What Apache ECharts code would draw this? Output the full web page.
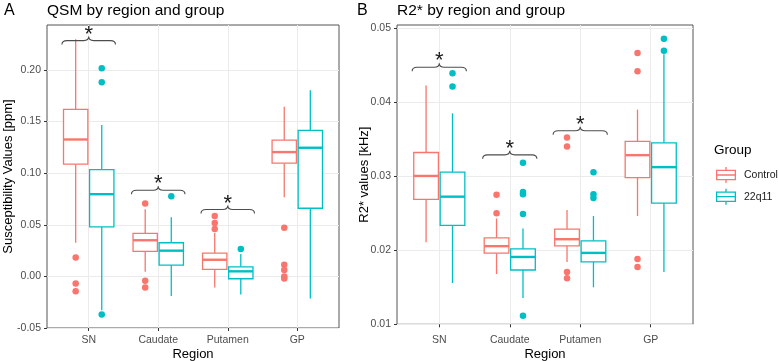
<!DOCTYPE html>
<html>
<head>
<meta charset="utf-8">
<script src="https://cdn.jsdelivr.net/npm/echarts@6/dist/echarts.min.js"></script>
<style>
  html, body { margin: 0; padding: 0; background: #fff; }
  #main { width: 779px; height: 361px; }
</style>
</head>
<body>
<div id="main"></div>
<script>
// regions on the x axis
var regions = ['SN', 'Caudate', 'Putamen', 'GP'];

// QSM boxes, one row per region: [min, Q1, median, Q3, max]
var qsmControl = [
    [0.0326, 0.1087, 0.1326, 0.1617, 0.2298],
    [0.0045, 0.0243, 0.0350, 0.0417, 0.0650],
    [-0.0107, 0.0068, 0.0161, 0.0226, 0.0420],
    [0.0767, 0.1097, 0.1204, 0.1320, 0.1644]
];
var qsm22q11 = [
    [-0.0327, 0.0479, 0.0796, 0.1035, 0.1466],
    [-0.0191, 0.0110, 0.0249, 0.0326, 0.0573],
    [-0.0175, -0.0023, 0.0049, 0.0093, 0.0217],
    [-0.0214, 0.0660, 0.1246, 0.1414, 0.1802]
];
var qsmControlOut = [[0.0184, -0.0068, -0.0143], [0.0705, -0.0043, -0.0107], [0.0585, 0.0517, 0.0459], [0.0472, 0.0113, 0.0061, 0.0000, -0.0020]];
var qsm22q11Out = [[0.2016, 0.1880, -0.0369], [0.0777], [0.0265], []];
// significance brackets: [region index (1-based), height]
var qsmBrackets = [[1, 0.2284], [2, 0.0835], [3, 0.0648]];
var qsmTicks = [-0.05, 0, 0.05, 0.10, 0.15, 0.20];

// R2* boxes
var r2Control = [
    [0.0211, 0.02689, 0.03005, 0.03322, 0.04227],
    [0.0168, 0.01961, 0.02056, 0.02168, 0.0243],
    [0.01843, 0.0206, 0.0215, 0.02286, 0.02544],
    [0.02463, 0.02981, 0.03286, 0.03471, 0.03901]
];
var r222q11 = [
    [0.01558, 0.02336, 0.02725, 0.03056, 0.03851],
    [0.01354, 0.01734, 0.0191, 0.02019, 0.02296],
    [0.0150, 0.01843, 0.01965, 0.02128, 0.02463],
    [0.01707, 0.02639, 0.03124, 0.03453, 0.0465]
];
var r2ControlOut = [[], [0.02752, 0.0250], [0.03525, 0.03403, 0.01707, 0.01621], [0.04665, 0.04421, 0.01883, 0.01775]];
var r222q11Out = [[0.04394, 0.04213], [0.03182, 0.02788, 0.02757, 0.0249, 0.01115], [0.03055, 0.02757, 0.02707], [0.0486, 0.04697]];
var r2Brackets = [[1, 0.04475], [2, 0.0329], [3, 0.03616]];
var r2Ticks = [0.01, 0.02, 0.03, 0.04, 0.05];

var COL_CTRL = '#F8766D';
var COL_22Q = '#00BFC4';
var DODGE = 0.1875;   // ggplot position_dodge offset
var BOX_W = 0.35;
var BRACE_W = 0.385;
var FONT = '"Liberation Sans", Arial, sans-serif';

var boxIcon = 'path://M0 5.5H40V8.1H0Z M0 23.9H40V26.5H0Z M0 5.5H2.6V26.5H0Z M37.4 5.5H40V26.5H37.4Z M0 14.7H40V17.3H0Z M18.7 0H21.3V5.5H18.7Z M18.7 26.5H21.3V32H18.7Z';

function renderBox(params, api) {
    var x = api.value(0);
    var pMin = api.coord([x, api.value(1)]);
    var pQ1 = api.coord([x, api.value(2)]);
    var pMed = api.coord([x, api.value(3)]);
    var pQ3 = api.coord([x, api.value(4)]);
    var pMax = api.coord([x, api.value(5)]);
    var half = api.size([BOX_W, 0])[0] / 2;
    var color = api.visual('color');
    return {
        type: 'group',
        children: [
            {type: 'line', shape: {x1: pMax[0], y1: pMax[1], x2: pQ3[0], y2: pQ3[1]}, style: {stroke: color, lineWidth: 1.3}},
            {type: 'line', shape: {x1: pQ1[0], y1: pQ1[1], x2: pMin[0], y2: pMin[1]}, style: {stroke: color, lineWidth: 1.3}},
            {type: 'rect', shape: {x: pQ3[0] - half, y: pQ3[1], width: half * 2, height: pQ1[1] - pQ3[1]},
                style: {fill: '#fff', stroke: color, lineWidth: 1.3}},
            {type: 'line', shape: {x1: pMed[0] - half, y1: pMed[1], x2: pMed[0] + half, y2: pMed[1]}, style: {stroke: color, lineWidth: 2.4}}
        ]
    };
}

function renderBracket(params, api) {
    var xc = api.value(0), y = api.value(1);
    var L = api.coord([xc - BRACE_W, y]);
    var R = api.coord([xc + BRACE_W, y]);
    var C = api.coord([xc, y]);
    var y0 = C[1];
    var d = 'M' + L[0] + ' ' + (y0 + 4) + ' Q' + L[0] + ' ' + y0 + ' ' + (L[0] + 5) + ' ' + y0 +
        ' L' + (C[0] - 5) + ' ' + y0 + ' Q' + C[0] + ' ' + y0 + ' ' + C[0] + ' ' + (y0 - 4) +
        ' Q' + C[0] + ' ' + y0 + ' ' + (C[0] + 5) + ' ' + y0 +
        ' L' + (R[0] - 5) + ' ' + y0 + ' Q' + R[0] + ' ' + y0 + ' ' + R[0] + ' ' + (y0 + 4);
    return {
        type: 'group',
        children: [
            {type: 'path', shape: {pathData: d}, style: {fill: 'none', stroke: '#4d4d4d', lineWidth: 1.1}},
            {type: 'text', style: {text: '*', x: C[0], y: y0 - 6, textAlign: 'center', textVerticalAlign: 'middle',
                fontSize: 22, fill: '#1a1a1a', fontFamily: FONT}}
        ]
    };
}

function boxSeries(name, stats, dodge, color, gi) {
    var data = stats.map(function (s, i) {
        return [i + 1 + dodge].concat(s);
    });
    return {
        name: name, type: 'custom', xAxisIndex: gi, yAxisIndex: gi,
        itemStyle: {color: color}, renderItem: renderBox, clip: false, z: 3,
        encode: {x: 0, y: [1, 2, 3, 4, 5]}, data: data
    };
}

function outSeries(name, outs, dodge, color, gi) {
    var data = [];
    outs.forEach(function (list, i) {
        list.forEach(function (v) { data.push([i + 1 + dodge, v]); });
    });
    return {
        name: name, type: 'scatter', xAxisIndex: gi, yAxisIndex: gi,
        symbolSize: 6.5, itemStyle: {color: color, opacity: 1}, z: 4, data: data
    };
}

function bracketSeries(list, gi) {
    return {
        type: 'custom', xAxisIndex: gi, yAxisIndex: gi, renderItem: renderBracket, clip: false, z: 5,
        encode: {x: 0, y: 1}, data: list, silent: true
    };
}

function xAxisFor(gi, labelMargin, nameGap) {
    return {
        type: 'value', gridIndex: gi, min: 0.4, max: 4.6, position: 'bottom',
        name: 'Region', nameLocation: 'middle', nameGap: nameGap, nameMoveOverlap: false,
        nameTextStyle: {fontSize: 13, color: '#000', fontFamily: FONT},
        axisLine: {show: false, onZero: false},
        axisTick: {show: true, length: 3, customValues: [1, 2, 3, 4], lineStyle: {color: '#333'}},
        axisLabel: {customValues: [1, 2, 3, 4], margin: labelMargin, fontSize: 10.5, color: '#4D4D4D', fontFamily: FONT,
            formatter: function (v) { return regions[Math.round(v) - 1]; }},
        splitLine: {show: true, lineStyle: {color: '#EBEBEB', width: 1}}
    };
}

function yAxisFor(gi, min, max, interval, ticks, name, gap) {
    return {
        type: 'value', gridIndex: gi, min: min, max: max, interval: interval, position: 'left',
        name: name, nameLocation: 'middle', nameGap: gap, nameMoveOverlap: false,
        nameTextStyle: {fontSize: 13, color: '#000', fontFamily: FONT},
        axisLine: {show: false, onZero: false},
        axisTick: {show: true, length: 3, customValues: ticks, lineStyle: {color: '#333'}},
        axisLabel: {customValues: ticks, margin: 6, fontSize: 10.5, color: '#4D4D4D', fontFamily: FONT,
            formatter: function (v) { return v.toFixed(2); }},
        splitLine: {show: true, lineStyle: {color: '#EBEBEB', width: 1}}
    };
}

var chart = echarts.init(document.getElementById('main'));

var option = {
    animation: false,
    backgroundColor: '#fff',
    textStyle: {fontFamily: FONT},
    title: [
        {text: 'A', left: 4, top: 3, padding: 0, textStyle: {fontSize: 16, fontWeight: 'normal', color: '#000', fontFamily: FONT}},
        {text: 'QSM by region and group', left: 47, top: 3, padding: 0, textStyle: {fontSize: 15.5, fontWeight: 'normal', color: '#000', fontFamily: FONT}},
        {text: 'B', left: 357, top: 3, padding: 0, textStyle: {fontSize: 16, fontWeight: 'normal', color: '#000', fontFamily: FONT}},
        {text: 'R2* by region and group', left: 397, top: 3, padding: 0, textStyle: {fontSize: 15.5, fontWeight: 'normal', color: '#000', fontFamily: FONT}},
        {text: 'Group', left: 714, top: 143, padding: 0, textStyle: {fontSize: 13.5, fontWeight: 'normal', color: '#000', fontFamily: FONT}}
    ],
    legend: {
        orient: 'vertical', left: 716, top: 167, padding: 0,
        itemWidth: 20, itemHeight: 16, itemGap: 5.7,
        itemStyle: {borderWidth: 0},
        textStyle: {fontSize: 10.5, color: '#1a1a1a', fontFamily: FONT, padding: [0, 0, 0, 3]},
        data: [{name: 'Control', icon: boxIcon}, {name: '22q11', icon: boxIcon}]
    },
    grid: [
        {left: 47, right: 440, top: 25, bottom: 33, show: true, borderColor: '#555', borderWidth: 1,
            backgroundColor: 'transparent', outerBoundsMode: 'none'},
        {left: 397, right: 86, top: 25, bottom: 36.7, show: true, borderColor: '#555', borderWidth: 1,
            backgroundColor: 'transparent', outerBoundsMode: 'none'}
    ],
    xAxis: [xAxisFor(0, 7, 19.5), xAxisFor(1, 10.5, 23.2)],
    yAxis: [
        yAxisFor(0, -0.05, 0.2435, 0.05, qsmTicks, 'Susceptibility Values [ppm]', 32),
        yAxisFor(1, 0.01, 0.05045, 0.01, r2Ticks, 'R2* values [kHz]', 26)
    ],
    series: [
        boxSeries('Control', qsmControl, -DODGE, COL_CTRL, 0),
        boxSeries('22q11', qsm22q11, DODGE, COL_22Q, 0),
        outSeries('Control', qsmControlOut, -DODGE, COL_CTRL, 0),
        outSeries('22q11', qsm22q11Out, DODGE, COL_22Q, 0),
        bracketSeries(qsmBrackets, 0),
        boxSeries('Control', r2Control, -DODGE, COL_CTRL, 1),
        boxSeries('22q11', r222q11, DODGE, COL_22Q, 1),
        outSeries('Control', r2ControlOut, -DODGE, COL_CTRL, 1),
        outSeries('22q11', r222q11Out, DODGE, COL_22Q, 1),
        bracketSeries(r2Brackets, 1)
    ]
};

chart.setOption(option);
</script>
</body>
</html>
